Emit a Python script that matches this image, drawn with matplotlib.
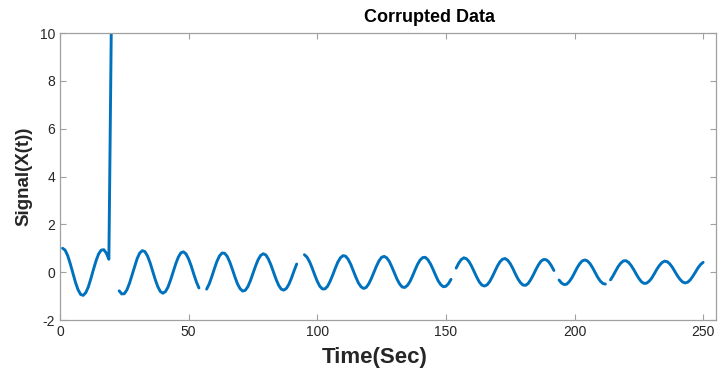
import numpy as np
import matplotlib
matplotlib.use("Agg")
import matplotlib.pyplot as plt

nan = np.nan
time_sec = np.arange(1, 251)
signal = [
    1.00, 0.92, 0.69, 0.35, -0.04, -0.42, -0.73, -0.93, -0.97, -0.86,
    -0.62, -0.27, 0.11, 0.47, 0.76, 0.92, 0.94, 0.80, 0.54, 10.8,
    nan, nan, -0.78, -0.91, -0.90, -0.74, -0.47, -0.12, 0.24, 0.57,
    0.80, 0.90, 0.86, 0.68, 0.40, 0.05, -0.30, -0.60, -0.81, -0.88,
    -0.81, -0.62, -0.32, 0.02, 0.35, 0.63, 0.81, 0.85, 0.76, 0.55,
    0.26, -0.08, -0.40, -0.66, nan, nan, -0.71, -0.49, -0.19, 0.14,
    0.45, 0.68, 0.80, 0.79, 0.66, 0.42, 0.12, -0.20, -0.49, -0.69,
    -0.79, -0.76, -0.61, -0.36, -0.06, 0.25, 0.52, 0.70, 0.77, 0.72,
    0.55, 0.30, 0.00, -0.30, -0.55, -0.71, -0.75, -0.68, -0.50, -0.24,
    0.06, 0.34, nan, nan, 0.73, 0.63, 0.44, 0.18, -0.11, -0.38,
    -0.59, -0.70, -0.70, -0.59, -0.38, -0.12, 0.16, 0.42, 0.60, 0.69,
    0.67, 0.54, 0.33, 0.06, -0.21, -0.45, -0.61, -0.68, -0.64, -0.49,
    -0.27, -0.01, 0.25, 0.47, 0.62, 0.66, 0.60, 0.45, 0.22, -0.04,
    -0.29, -0.49, -0.62, -0.64, -0.56, -0.40, -0.17, 0.09, 0.33, 0.51,
    0.61, 0.62, 0.52, 0.35, 0.12, -0.13, -0.36, -0.52, -0.61, -0.59,
    -0.48, -0.30, nan, 0.17, 0.38, 0.53, 0.60, 0.56, 0.44, 0.25,
    0.02, -0.21, -0.41, -0.54, -0.58, -0.53, -0.40, -0.20, 0.02, 0.25,
    0.43, 0.54, 0.57, 0.50, 0.36, 0.16, -0.07, -0.28, -0.44, -0.54,
    -0.55, -0.47, -0.31, -0.11, 0.11, 0.31, 0.46, 0.53, 0.52, 0.43,
    0.27, 0.07, nan, -0.33, -0.46, -0.52, -0.50, -0.39, -0.23, -0.03,
    0.18, 0.35, 0.47, 0.51, 0.47, 0.36, 0.19, -0.01, -0.21, -0.37,
    -0.47, -0.50, nan, -0.32, -0.15, 0.05, 0.24, 0.38, 0.47, 0.48,
    0.41, 0.28, 0.11, -0.08, -0.26, -0.40, -0.47, -0.46, -0.38, -0.25,
    -0.07, 0.12, 0.28, 0.40, 0.46, 0.44, 0.35, 0.21, 0.03, -0.15,
    -0.30, -0.41, -0.45, -0.42, -0.32, -0.17, 0.00, 0.18, 0.32, 0.41,
]
x_ticks = [0, 50, 100, 150, 200, 250]
y_ticks = [-2, 0, 2, 4, 6, 8, 10]

plt.rcParams['font.family'] = ['Liberation Sans', 'DejaVu Sans']
plt.rcParams['axes.unicode_minus'] = False

fig = plt.figure(figsize=(7.27, 3.70), dpi=100)
ax = fig.add_axes([60/727, 1-320/370, 656/727, 287/370])
ax.plot(time_sec, signal, color='#0072BD', linewidth=2.1, solid_capstyle='round')
ax.set_xlim(0, 255)
ax.set_ylim(-2, 10)
ax.set_xticks(x_ticks)
ax.set_yticks(y_ticks)
ax.tick_params(direction='in', length=4, width=0.8, colors='#a0a0a0',
               labelcolor='#262626', labelsize=10, top=True, right=True)
for s in ax.spines.values():
    s.set_color('#a0a0a0')
    s.set_linewidth(0.9)
ax.set_xlabel('Time(Sec)', fontsize=16, fontweight='bold', color='#262626')
ax.xaxis.set_label_coords((375-60)/656, -0.095)
ax.set_ylabel('Signal(X(t))', fontsize=13.5, fontweight='bold', color='#262626', labelpad=5)
fig.text(430/727, 1-17/370, 'Corrupted Data', fontsize=13, fontweight='bold',
         ha='center', va='center', color='black')
fig.savefig('out.png', dpi=100)
